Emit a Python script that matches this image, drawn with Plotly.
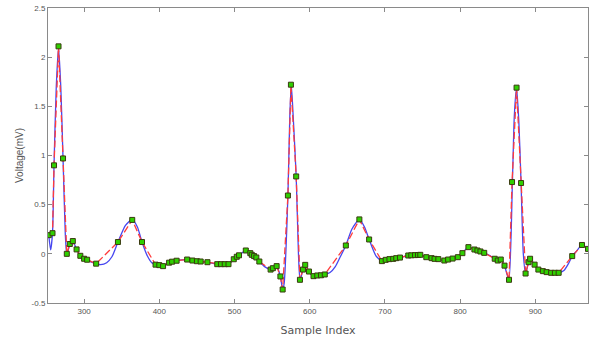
import plotly.graph_objects as go

# Sampled points (green markers) and reconstruction (red dashed)
sample_x = [253, 258, 260, 266, 272, 277, 281, 285, 290, 295,
            300, 304, 316, 345, 364, 377, 395, 400, 405, 413,
            417, 423, 437, 444, 450, 455, 464, 477, 482, 487,
            492, 499, 503, 506, 515, 521, 523, 526, 529, 533,
            548, 551, 556, 561, 564, 571, 575, 582, 587, 591,
            594, 599, 605, 610, 615, 620, 648, 666, 679, 696,
            701, 706, 711, 715, 720, 731, 735, 740, 744, 747,
            755, 762, 766, 771, 779, 784, 790, 797, 803, 811,
            819, 823, 827, 832, 846, 850, 854, 859, 865, 869,
            875, 881, 887, 891, 893, 899, 904, 910, 915, 921,
            926, 931, 949, 962, 970]
sample_y = [0.19, 0.21, 0.90, 2.11, 0.97, 0.0, 0.10, 0.13, 0.045, -0.02,
            -0.05, -0.06, -0.10, 0.12, 0.345, 0.12, -0.11, -0.115, -0.125, -0.09,
            -0.08, -0.07, -0.058, -0.068, -0.075, -0.078, -0.085, -0.105, -0.105, -0.105,
            -0.105, -0.055, -0.03, -0.015, 0.034, 0.007, -0.01, -0.023, -0.037, -0.078,
            -0.16, -0.146, -0.125, -0.23, -0.363, 0.593, 1.72, 0.787, -0.264, -0.16,
            -0.112, -0.18, -0.227, -0.22, -0.218, -0.21, 0.085, 0.35, 0.146, -0.074,
            -0.061, -0.054, -0.051, -0.044, -0.038, -0.017, -0.015, -0.013, -0.012, -0.01,
            -0.034, -0.044, -0.051, -0.054, -0.068, -0.058, -0.048, -0.034, 0.007, 0.068,
            0.044, 0.034, 0.024, 0.01, -0.05, -0.068, -0.058, -0.12, -0.264, 0.73,
            1.69, 0.72, -0.2, -0.085, -0.05, -0.11, -0.16, -0.176, -0.186, -0.193,
            -0.193, -0.193, -0.023, 0.09, 0.05]

# Original ECG signal (blue)
orig_x = [253, 255.5, 258, 260, 263, 266, 269, 272, 275, 277,
          279, 281, 285, 290, 295, 300, 304, 310, 316, 322,
          330, 337, 345, 355, 364, 371, 377, 384, 390, 395,
          400, 405, 413, 417, 423, 430, 437, 444, 450, 455,
          464, 470, 477, 487, 492, 499, 503, 506, 510, 515,
          521, 526, 533, 540, 548, 551, 556, 561, 564, 566,
          571, 573.5, 575.5, 578, 582, 585, 587, 589, 591, 594,
          599, 605, 610, 615, 620, 627, 634, 640, 648, 656,
          666, 673, 679, 688, 696, 701, 711, 720, 731, 740,
          747, 755, 766, 779, 790, 797, 803, 811, 819, 827,
          832, 840, 846, 850, 854, 859, 862, 865, 869.5, 872,
          875, 878, 881, 884, 887, 891, 893, 899, 904, 910,
          915, 921, 931, 938, 944, 949, 955, 962, 970]
orig_y = [0.19, 0.04, 0.21, 0.9, 1.7, 2.1, 1.7, 0.97, 0.2, -0.02,
          0.04, 0.10, 0.13, 0.045, -0.02, -0.05, -0.06, -0.085, -0.10, -0.11,
          -0.09, -0.03, 0.12, 0.29, 0.35, 0.27, 0.12, -0.02, -0.09, -0.11,
          -0.115, -0.125, -0.09, -0.08, -0.07, -0.062, -0.058, -0.068, -0.075, -0.078,
          -0.085, -0.095, -0.105, -0.105, -0.105, -0.055, -0.03, -0.015, 0.01, 0.034,
          0.007, -0.023, -0.078, -0.13, -0.16, -0.146, -0.125, -0.23, -0.363, -0.3,
          0.593, 1.4, 1.72, 1.4, 0.787, 0.0, -0.264, -0.22, -0.16, -0.112,
          -0.18, -0.227, -0.22, -0.218, -0.21, -0.19, -0.13, -0.04, 0.085, 0.25,
          0.35, 0.27, 0.146, -0.02, -0.074, -0.061, -0.051, -0.038, -0.017, -0.013,
          -0.01, -0.034, -0.051, -0.068, -0.048, -0.034, 0.007, 0.068, 0.044, 0.024,
          0.01, -0.02, -0.05, -0.068, -0.058, -0.12, -0.2, -0.264, 0.73, 1.4,
          1.69, 1.35, 0.72, 0.0, -0.2, -0.085, -0.05, -0.11, -0.16, -0.176,
          -0.186, -0.193, -0.193, -0.17, -0.1, -0.023, 0.03, 0.09, 0.05]

x_ticks = [300, 400, 500, 600, 700, 800, 900]
y_ticks = [-0.5, 0, 0.5, 1, 1.5, 2, 2.5]
y_tick_text = ["-0.5", "0", "0.5", "1", "1.5", "2", "2.5"]

fig = go.Figure()
fig.add_trace(go.Scatter(x=orig_x, y=orig_y, mode="lines",
                         line=dict(color="#4646f0", width=1.3, shape="spline", smoothing=0.6),
                         showlegend=False, hoverinfo="skip"))
fig.add_trace(go.Scatter(x=sample_x, y=sample_y, mode="lines",
                         line=dict(color="#ff3b3b", width=1.3, dash="7px,3px"),
                         showlegend=False, hoverinfo="skip"))
fig.add_trace(go.Scatter(x=sample_x, y=sample_y, mode="markers",
                         marker=dict(symbol="square", size=5, color="#2fd000",
                                     line=dict(color="#3a3a10", width=1)),
                         showlegend=False))

axis_common = dict(showgrid=False, zeroline=False, showline=True, linecolor="#8a8a8a",
                   linewidth=1, mirror="ticks", ticks="inside", ticklen=4,
                   tickcolor="#8a8a8a", automargin=False,
                   tickfont=dict(family="Liberation Sans, Arial", size=8, color="#555"))

fig.update_layout(
    width=597, height=342,
    margin=dict(l=48, r=9, t=8, b=39),
    paper_bgcolor="white", plot_bgcolor="white",
    xaxis=dict(range=[252, 970], tickvals=x_ticks, ticktext=[str(v) for v in x_ticks],
               title=dict(text="Sample Index", standoff=11,
                          font=dict(family="DejaVu Sans, Verdana", size=11, color="#555")),
               **axis_common),
    yaxis=dict(range=[-0.5, 2.5], tickvals=y_ticks, ticktext=y_tick_text,
               title=dict(text="Voltage(mV)", standoff=6,
                          font=dict(family="Liberation Sans, Arial", size=10, color="#555")),
               **axis_common),
)

fig.write_html("out.html", config={"displayModeBar": False},
               post_script="document.body.style.margin='0';")
